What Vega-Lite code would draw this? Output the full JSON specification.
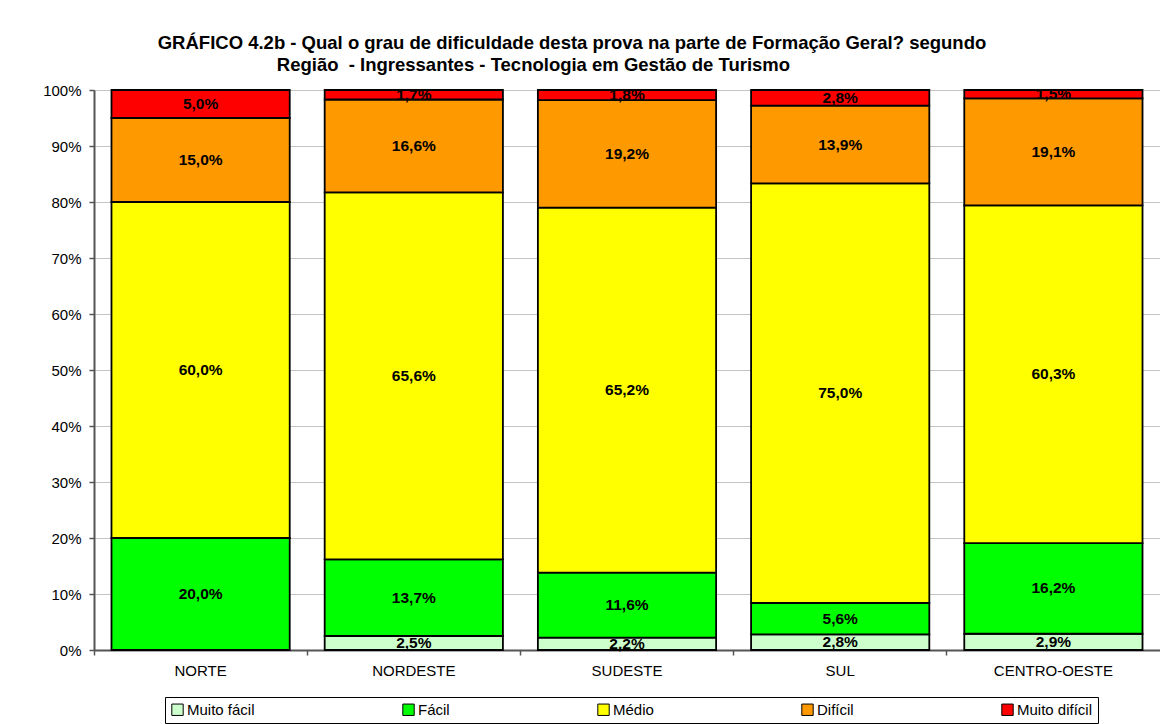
{
  "$schema": "https://vega.github.io/schema/vega-lite/v6.json",
  "width": 1066,
  "height": 560,
  "autosize": {"type": "none"},
  "padding": {"left": 94, "top": 90, "right": 0, "bottom": 74},
  "background": "white",
  "title": {
    "text": ["GRÁFICO 4.2b - Qual o grau de dificuldade desta prova na parte de Formação Geral? segundo", "Região\u00a0 - Ingressantes - Tecnologia em Gestão de Turismo\u00a0\u00a0\u00a0\u00a0\u00a0\u00a0\u00a0\u00a0\u00a0\u00a0\u00a0\u00a0\u00a0\u00a0\u00a0\u200b"],
    "anchor": "middle",
    "frame": "group",
    "dx": -55,
    "font": "Liberation Sans",
    "fontSize": 18.5,
    "fontWeight": "bold",
    "color": "black",
    "lineHeight": 22,
    "offset": 9
  },
  "data": {
    "values": [
      {"regiao": "NORTE", "grau": "Fácil", "ord": 2, "valor": 20.0, "rotulo": "20,0%"},
      {"regiao": "NORTE", "grau": "Médio", "ord": 3, "valor": 60.0, "rotulo": "60,0%"},
      {"regiao": "NORTE", "grau": "Difícil", "ord": 4, "valor": 15.0, "rotulo": "15,0%"},
      {"regiao": "NORTE", "grau": "Muito difícil", "ord": 5, "valor": 5.0, "rotulo": "5,0%"},
      {"regiao": "NORDESTE", "grau": "Muito fácil", "ord": 1, "valor": 2.5, "rotulo": "2,5%"},
      {"regiao": "NORDESTE", "grau": "Fácil", "ord": 2, "valor": 13.7, "rotulo": "13,7%"},
      {"regiao": "NORDESTE", "grau": "Médio", "ord": 3, "valor": 65.6, "rotulo": "65,6%"},
      {"regiao": "NORDESTE", "grau": "Difícil", "ord": 4, "valor": 16.6, "rotulo": "16,6%"},
      {"regiao": "NORDESTE", "grau": "Muito difícil", "ord": 5, "valor": 1.7, "rotulo": "1,7%"},
      {"regiao": "SUDESTE", "grau": "Muito fácil", "ord": 1, "valor": 2.2, "rotulo": "2,2%"},
      {"regiao": "SUDESTE", "grau": "Fácil", "ord": 2, "valor": 11.6, "rotulo": "11,6%"},
      {"regiao": "SUDESTE", "grau": "Médio", "ord": 3, "valor": 65.2, "rotulo": "65,2%"},
      {"regiao": "SUDESTE", "grau": "Difícil", "ord": 4, "valor": 19.2, "rotulo": "19,2%"},
      {"regiao": "SUDESTE", "grau": "Muito difícil", "ord": 5, "valor": 1.8, "rotulo": "1,8%"},
      {"regiao": "SUL", "grau": "Muito fácil", "ord": 1, "valor": 2.8, "rotulo": "2,8%"},
      {"regiao": "SUL", "grau": "Fácil", "ord": 2, "valor": 5.6, "rotulo": "5,6%"},
      {"regiao": "SUL", "grau": "Médio", "ord": 3, "valor": 75.0, "rotulo": "75,0%"},
      {"regiao": "SUL", "grau": "Difícil", "ord": 4, "valor": 13.9, "rotulo": "13,9%"},
      {"regiao": "SUL", "grau": "Muito difícil", "ord": 5, "valor": 2.8, "rotulo": "2,8%"},
      {"regiao": "CENTRO-OESTE", "grau": "Muito fácil", "ord": 1, "valor": 2.9, "rotulo": "2,9%"},
      {"regiao": "CENTRO-OESTE", "grau": "Fácil", "ord": 2, "valor": 16.2, "rotulo": "16,2%"},
      {"regiao": "CENTRO-OESTE", "grau": "Médio", "ord": 3, "valor": 60.3, "rotulo": "60,3%"},
      {"regiao": "CENTRO-OESTE", "grau": "Difícil", "ord": 4, "valor": 19.1, "rotulo": "19,1%"},
      {"regiao": "CENTRO-OESTE", "grau": "Muito difícil", "ord": 5, "valor": 1.5, "rotulo": "1,5%"}
    ]
  },
  "config": {
    "view": {"stroke": null},
    "font": "Liberation Sans"
  },
  "encoding": {
    "x": {
      "field": "regiao",
      "type": "nominal",
      "sort": ["NORTE", "NORDESTE", "SUDESTE", "SUL", "CENTRO-OESTE"],
      "scale": {"paddingInner": 0.164, "paddingOuter": 0.082},
      "axis": {
        "title": null,
        "labelAngle": 0,
        "labelFont": "Liberation Sans",
        "labelFontSize": 15,
        "labelColor": "black",
        "domainColor": "#555",
        "domainWidth": 2,
        "tickColor": "#555",
        "tickSize": 5,
        "tickWidth": 1.5,
        "bandPosition": -0.098,
        "labelPadding": 8,
        "grid": false
      }
    },
    "y": {
      "field": "valor",
      "type": "quantitative",
      "stack": "normalize",
      "scale": {"domain": [0, 1], "nice": false},
      "axis": {
        "title": null,
        "values": [0, 0.1, 0.2, 0.3, 0.4, 0.5, 0.6, 0.7, 0.8, 0.9, 1],
        "format": ".0%",
        "labelFont": "Liberation Sans",
        "labelFontSize": 15,
        "labelColor": "black",
        "domainColor": "#555",
        "domainWidth": 2,
        "tickColor": "#555",
        "tickSize": 5,
        "tickWidth": 1.5,
        "labelPadding": 8,
        "grid": true,
        "gridColor": "#888",
        "gridDash": [1, 1],
        "gridWidth": 1
      }
    },
    "order": {"field": "ord", "type": "quantitative"}
  },
  "layer": [
    {
      "mark": {"type": "bar", "stroke": "black", "strokeWidth": 1.8},
      "encoding": {
        "color": {
          "field": "grau",
          "type": "nominal",
          "scale": {
            "domain": ["Muito fácil", "Fácil", "Médio", "Difícil", "Muito difícil"],
            "range": ["#CCFFCC", "#00FF00", "#FFFF00", "#FF9900", "#FF0000"]
          },
          "legend": {
            "orient": "none",
            "legendX": 71,
            "legendY": 607,
            "direction": "horizontal",
            "columns": 5,
            "title": null,
            "strokeColor": "black",
            "fillColor": "white",
            "padding": 5,
            "columnPadding": 145,
            "gridAlign": "each",
            "labelFont": "Liberation Sans",
            "labelFontSize": 15,
            "labelColor": "black",
            "labelOffset": 2,
            "symbolType": "square",
            "symbolSize": 130,
            "symbolStrokeColor": "black",
            "symbolStrokeWidth": 1
          }
        }
      }
    },
    {
      "mark": {"type": "text", "font": "Liberation Sans", "fontSize": 15.5, "fontWeight": "bold", "color": "black", "baseline": "middle"},
      "encoding": {
        "y": {"field": "valor", "type": "quantitative", "stack": "normalize", "bandPosition": 0.5},
        "text": {"field": "rotulo"}
      }
    }
  ]
}
